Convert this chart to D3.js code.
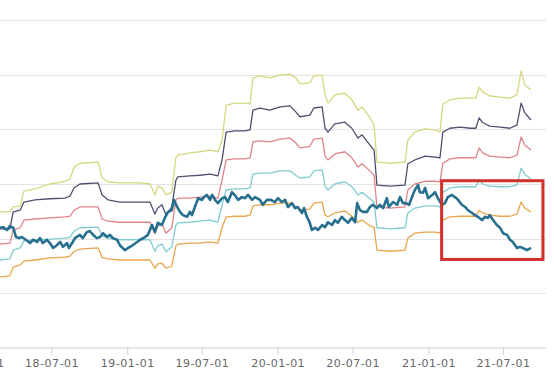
<!DOCTYPE html>
<html>
<head>
<meta charset="utf-8">
<script src="https://cdn.jsdelivr.net/npm/d3@7"></script>
<style>
  html, body { margin: 0; padding: 0; background: #fff; }
  svg { display: block; }
  .axis text { font-family: "DejaVu Sans", Verdana, sans-serif; font-size: 11px; fill: #666; letter-spacing: 0.5px; }
  .axis path, .axis line { stroke: #cfcfcf; }
</style>
</head>
<body>
<div id="chart"></div>
<script>
// band dates (valuation bands change at report dates)
const bandDates = ["2018-02-26","2018-03-22","2018-03-30","2018-04-16","2018-04-25",
  "2018-05-22","2018-06-27","2018-08-03","2018-08-15","2018-08-25",
  "2018-09-08","2018-10-22","2018-11-01","2018-11-15","2018-12-14",
  "2019-02-01","2019-02-25","2019-03-09","2019-03-16","2019-03-26",
  "2019-04-05","2019-04-19","2019-04-29","2019-05-04","2019-06-02",
  "2019-06-26","2019-07-21","2019-08-09","2019-08-19","2019-08-29",
  "2019-09-19","2019-10-14","2019-10-26","2019-11-02","2019-11-19",
  "2019-12-13","2020-01-07","2020-01-31","2020-02-14","2020-02-24",
  "2020-03-19","2020-03-29","2020-04-18","2020-04-25","2020-05-02",
  "2020-05-19","2020-06-12","2020-06-29","2020-07-14","2020-07-24",
  "2020-08-12","2020-08-22","2020-08-29","2020-09-30","2020-11-05",
  "2020-11-12","2020-11-29","2020-12-24","2021-01-17","2021-01-29",
  "2021-02-05","2021-02-22","2021-03-19","2021-04-12","2021-04-26",
  "2021-05-04","2021-05-13","2021-05-30","2021-06-24","2021-07-18",
  "2021-08-04","2021-08-14","2021-08-23","2021-09-07"];

const bandTop = [24.9,24.9,25.8,26.0,28.7, 29.1,30.0,30.5,30.9,33.1,
  33.8,34.0,31.1,30.4,30.2, 30.2,30.0,28.0,29.6,29.3,
  28.0,28.5,34.8,35.3,35.7, 35.9,36.2,35.9,38.0,44.4,
  44.8,44.8,44.6,49.4,49.8, 49.4,49.9,50.1,49.4,48.3,
  48.5,49.8,49.9,46.3,44.8, 46.3,46.6,45.4,43.5,44.1,
  42.1,40.8,34.0,33.8,34.0, 38.0,39.5,40.1,39.9,39.5,
  44.6,45.4,45.7,45.7,45.7, 47.7,46.8,46.1,45.9,45.7,
  46.3,50.7,48.1,47.2];

const bandHigh = [21.8,21.8,24.9,25.2,26.7, 27.1,27.3,27.4,27.8,29.3,
  30.0,30.2,28.0,27.1,26.7, 26.7,26.7,24.5,25.6,26.2,
  24.3,25.8,30.7,31.3,31.5, 31.6,31.8,31.5,34.4,39.5,
  39.7,39.7,39.9,43.5,43.9, 43.5,44.1,44.3,43.2,42.3,
  42.6,43.9,44.1,40.2,39.5, 41.0,41.3,40.2,38.4,39.0,
  37.1,36.2,29.8,29.6,29.8, 33.7,34.4,35.1,34.9,34.8,
  39.5,40.2,40.4,40.2,40.2, 42.1,41.2,40.6,40.4,40.2,
  40.8,44.8,43.0,41.7];

const bandMid = [19.0,19.2,21.6,22.0,23.4, 23.6,23.8,24.0,24.1,25.2,
  25.8,25.8,23.6,23.2,23.0, 23.0,23.0,21.0,22.3,22.7,
  21.0,22.0,27.1,27.4,27.4, 27.6,27.8,27.4,30.7,34.4,
  34.6,34.6,34.8,37.7,37.9, 37.7,38.2,38.4,37.5,36.6,
  36.9,38.2,38.4,35.1,34.4, 35.5,35.9,34.8,33.1,33.7,
  32.4,31.6,25.8,25.6,25.8, 28.9,30.0,30.5,30.5,30.4,
  33.8,34.6,34.8,34.8,34.8, 36.6,35.7,35.1,34.9,34.8,
  35.3,38.6,37.1,36.2];

const bandLow = [16.1,16.3,17.9,18.3,19.6, 19.8,19.9,20.1,20.3,21.4,
  22.0,22.1,20.5,20.1,19.8, 19.8,19.8,17.7,18.7,19.0,
  17.6,18.5,22.5,22.9,23.0, 23.2,23.4,23.0,26.2,28.9,
  29.1,29.1,29.3,31.8,32.0, 32.0,32.4,32.4,31.6,31.1,
  31.3,32.4,32.6,29.6,28.9, 30.0,30.4,29.5,28.0,28.5,
  27.3,26.7,22.0,21.8,22.0, 24.7,25.6,26.0,26.0,25.8,
  28.5,29.3,29.5,29.5,29.5, 30.7,30.0,29.6,29.5,29.5,
  29.8,32.9,31.8,30.9];

const bandBottom = [13.0,13.2,14.8,15.2,15.9, 16.1,16.5,16.6,16.8,17.7,
  18.1,18.3,16.6,16.3,16.1, 16.1,16.1,14.6,15.4,15.5,
  14.6,15.0,18.7,19.0,19.2, 19.2,19.4,19.2,22.0,24.0,
  24.1,24.1,24.3,26.0,26.2, 26.2,26.5,26.5,25.8,25.2,
  25.4,26.5,26.7,24.3,24.0, 24.7,25.1,24.1,23.0,23.4,
  22.3,22.1,17.9,17.7,17.9, 20.1,21.0,21.2,21.2,21.0,
  23.4,24.0,24.1,24.1,24.1, 25.2,24.7,24.3,24.1,24.1,
  24.5,26.7,25.6,24.9];

const priceDates = ["2018-02-26","2018-03-05","2018-03-15","2018-03-22","2018-03-30",
  "2018-04-06","2018-04-13","2018-04-20","2018-04-28","2018-05-10",
  "2018-05-17","2018-05-27","2018-06-03","2018-06-10","2018-06-20",
  "2018-06-27","2018-07-05","2018-07-14","2018-07-22","2018-07-29",
  "2018-08-08","2018-08-12","2018-08-20","2018-08-27","2018-09-08",
  "2018-09-15","2018-09-25","2018-10-02","2018-10-10","2018-10-19",
  "2018-10-27","2018-11-03","2018-11-13","2018-11-20","2018-11-27",
  "2018-12-07","2018-12-14","2018-12-26","2019-01-03","2019-01-12",
  "2019-01-25","2019-02-01","2019-02-13","2019-02-20","2019-03-02",
  "2019-03-09","2019-03-16","2019-03-26","2019-04-02","2019-04-10",
  "2019-04-19","2019-04-24","2019-05-02","2019-05-09","2019-05-16",
  "2019-05-26","2019-06-02","2019-06-07","2019-06-14","2019-06-22",
  "2019-07-01","2019-07-06","2019-07-13","2019-07-21","2019-07-26",
  "2019-08-02","2019-08-09","2019-08-19","2019-08-26","2019-09-02",
  "2019-09-12","2019-09-19","2019-09-27","2019-10-06","2019-10-14",
  "2019-10-21","2019-10-31","2019-11-07","2019-11-19","2019-11-26",
  "2019-12-06","2019-12-16","2019-12-25","2020-01-02","2020-01-11",
  "2020-01-19","2020-01-26","2020-02-05","2020-02-12","2020-02-19",
  "2020-02-29","2020-03-05","2020-03-12","2020-03-19","2020-03-24",
  "2020-04-01","2020-04-08","2020-04-18","2020-04-25","2020-05-02",
  "2020-05-12","2020-05-19","2020-05-26","2020-06-05","2020-06-12",
  "2020-06-20","2020-06-29","2020-07-07","2020-07-12","2020-07-19",
  "2020-07-26","2020-08-05","2020-08-12","2020-08-19","2020-08-29",
  "2020-09-05","2020-09-13","2020-09-22","2020-09-27","2020-10-07",
  "2020-10-17","2020-10-24","2020-10-31","2020-11-07","2020-11-15",
  "2020-11-22","2020-11-29","2020-12-07","2020-12-11","2020-12-19",
  "2020-12-24","2020-12-31","2021-01-10","2021-01-17","2021-01-24",
  "2021-02-03","2021-02-10","2021-02-17","2021-02-27","2021-03-06",
  "2021-03-14","2021-03-23","2021-03-31","2021-04-07","2021-04-17",
  "2021-04-24","2021-05-01","2021-05-11","2021-05-18","2021-05-25",
  "2021-05-30","2021-06-07","2021-06-16","2021-06-24","2021-07-01",
  "2021-07-11","2021-07-18","2021-07-25","2021-08-04","2021-08-11",
  "2021-08-18","2021-08-28","2021-09-07"];

const priceValues = [22.0,22.1,21.6,22.3,22.0, 20.3,20.1,20.3,19.9,19.2,
  19.8,19.4,20.1,19.2,19.8, 19.2,18.3,18.8,19.4,18.5,
  19.2,18.3,19.2,20.1,20.7, 20.1,21.2,21.4,20.7,20.1,
  20.3,21.0,20.3,20.7,20.1, 19.8,18.8,17.9,18.3,18.7,
  19.4,19.8,20.3,20.7,22.5, 21.2,22.9,22.5,23.8,24.9,
  25.2,27.1,25.8,24.9,24.3, 24.0,24.9,24.3,25.8,27.4,
  27.1,27.6,28.0,27.1,28.0, 27.1,26.5,27.4,27.6,26.7,
  28.5,28.0,27.1,27.6,27.4, 28.0,27.1,27.6,27.1,26.2,
  27.1,27.1,26.7,27.4,26.7, 27.1,25.8,26.5,25.6,25.8,
  24.7,25.6,24.0,22.9,21.6, 22.0,21.6,22.5,22.1,23.0,
  22.5,23.4,22.9,24.0,23.4, 22.9,23.8,23.0,26.5,25.2,
  24.9,24.9,25.8,26.2,25.6, 26.2,25.6,27.4,25.8,26.7,
  26.2,27.6,26.5,26.5,26.2, 27.6,28.9,29.8,28.5,28.4,
  29.3,27.4,28.0,28.5,27.4, 26.2,26.5,27.6,28.0,27.6,
  27.1,26.2,25.8,25.2,24.7, 24.3,24.0,23.4,24.0,23.8,
  24.3,23.4,22.5,22.0,21.0, 20.7,19.8,19.4,18.3,18.5,
  18.3,17.9,18.3];

const tickDates = ["2018-01-01","2018-07-01","2019-01-01","2019-07-01",
  "2020-01-01","2020-07-01","2021-01-01","2021-07-01"];
const gridValues = [10, 20, 30, 40, 50, 60];

// highlighted window (red box)
const highlightDates = ["2021-02-02", "2021-10-06"];
const highlightRange = [16.2, 30.6];

const parse = d3.timeParse("%Y-%m-%d");
const width = 554, height = 384;

const svg = d3.select("#chart").append("svg")
  .attr("width", width)
  .attr("height", height);

// time scale: the plot starts left of the visible window
const x = d3.scaleTime()
  .domain([parse("2018-07-01"), parse("2021-07-01")])
  .range([51.5, 503]);
x.domain([x.invert(-30), x.invert(546)]).range([-30, 546]);

const y = d3.scaleLinear().domain([0, 60]).range([348, 20]);

// gridlines
svg.append("g").selectAll("line")
  .data(gridValues)
  .join("line")
  .attr("x1", -30).attr("x2", 546)
  .attr("y1", d => Math.round(y(d)) + 0.5)
  .attr("y2", d => Math.round(y(d)) + 0.5)
  .attr("stroke", "#e4e4e4")
  .attr("stroke-width", 1);

// x axis
svg.append("g")
  .attr("class", "axis")
  .attr("transform", `translate(0, ${Math.round(y(0)) - 0.5})`)
  .call(d3.axisBottom(x)
    .tickValues(tickDates.map(parse))
    .tickFormat(d3.timeFormat("%y-%m-%d"))
    .tickSize(7)
    .tickSizeOuter(0)
    .tickPadding(5));

const line = d3.line()
  .x(d => x(d.date))
  .y(d => y(d.v));

const bands = [
  { values: bandTop, color: "#d6d77f" },
  { values: bandHigh, color: "#4d4f6e" },
  { values: bandMid, color: "#e0848a" },
  { values: bandLow, color: "#7fcdd0" },
  { values: bandBottom, color: "#e9a64c" }
];

bands.forEach(b => {
  const pts = bandDates.map((d, i) => ({ date: parse(d), v: b.values[i] }));
  svg.append("path")
    .datum(pts)
    .attr("fill", "none")
    .attr("stroke", b.color)
    .attr("stroke-width", 1.3)
    .attr("stroke-linejoin", "round")
    .attr("d", line);
});

const pricePts = priceDates.map((d, i) => ({ date: parse(d), v: priceValues[i] }));
svg.append("path")
  .datum(pricePts)
  .attr("fill", "none")
  .attr("stroke", "#276f8f")
  .attr("stroke-width", 2.6)
  .attr("stroke-linejoin", "round")
  .attr("d", line);

// red highlight box
const hx0 = x(parse(highlightDates[0])), hx1 = x(parse(highlightDates[1]));
const hy0 = y(highlightRange[1]), hy1 = y(highlightRange[0]);
svg.append("rect")
  .attr("x", hx0)
  .attr("y", hy0)
  .attr("width", hx1 - hx0)
  .attr("height", hy1 - hy0)
  .attr("fill", "none")
  .attr("stroke", "#d2302c")
  .attr("stroke-width", 3);
</script>
</body>
</html>
